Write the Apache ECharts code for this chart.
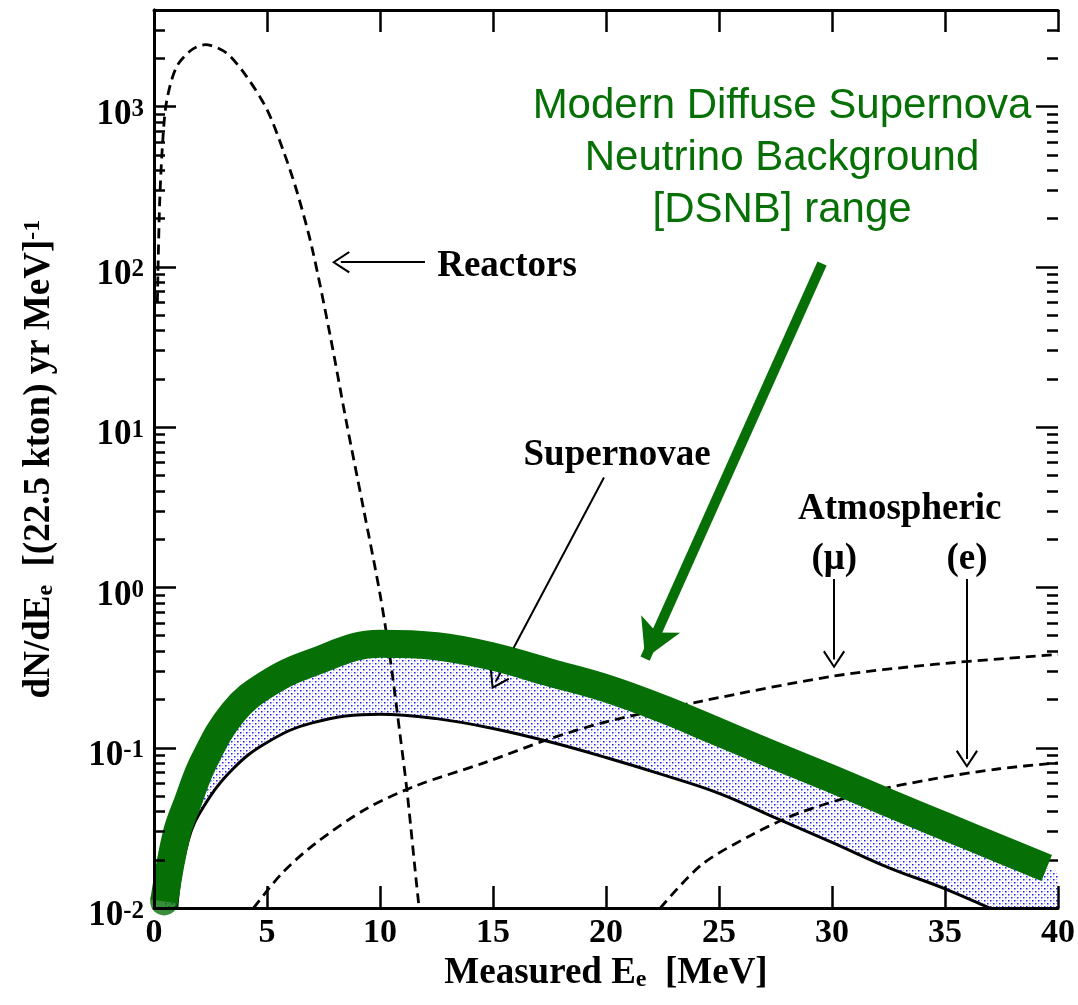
<!DOCTYPE html>
<html>
<head>
<meta charset="utf-8">
<script src="https://cdn.jsdelivr.net/npm/echarts@6/dist/echarts.min.js"></script>
<style>
  html, body { margin: 0; padding: 0; background: #fff; }
  #chart { width: 1078px; height: 1005px; }
</style>
</head>
<body>
<div id="chart"></div>
<script>
// values (energy in MeV, rate per MeV per 22.5 kton yr)
var reactorE = [0.15, 0.25, 0.4, 0.57, 1.0, 1.67, 2.26, 3.2, 4.1, 5.0, 5.7, 6.33, 7.0, 7.8, 8.5, 9.25, 10.0, 10.45, 10.9, 11.2, 11.7, 12.0]
var reactorRate = [60, 250, 650, 1100, 1770, 2260, 2430, 2160, 1535, 957, 541, 293, 130, 37, 11, 3.2, 0.91, 0.36, 0.117, 0.053, 0.011, 0.005]

var atmMuE = [4.4, 5.7, 7.2, 9.4, 11.6, 14.6, 17.5, 20, 24.2, 30, 34.5, 40]
var atmMuRate = [0.01, 0.0167, 0.0257, 0.0417, 0.058, 0.0805, 0.1135, 0.145, 0.195, 0.279, 0.331, 0.382]

var atmEE = [22.4, 24.2, 26.4, 28.6, 31.5, 34.5, 37.4, 40]
var atmERate = [0.01, 0.0185, 0.0284, 0.0395, 0.0525, 0.064, 0.074, 0.0805]

// supernova band: lower edge (black line) and upper edge (green DSNB line)
var bandE = [0.45, 1.0, 1.5, 2.2, 3.5, 5, 7, 10, 12.5, 15, 17.5, 20, 22.5, 25, 27.5, 30, 32.5, 35, 37.5, 39.5, 40]
var snLow = [0.0005, 0.0098, 0.026, 0.043, 0.074, 0.108, 0.143, 0.162, 0.152, 0.132, 0.109, 0.087, 0.068, 0.052, 0.0365, 0.0257, 0.0179, 0.0132, 0.0093, 0.0071, 0.0065]
var snHigh = [0.011, 0.029, 0.046, 0.082, 0.166, 0.25, 0.34, 0.445, 0.43, 0.37, 0.295, 0.235, 0.175, 0.125, 0.089, 0.064, 0.0454, 0.0324, 0.0232, 0.0178, 0.0166]

var xTicks = [0, 5, 10, 15, 20, 25, 30, 35, 40]
var yMin = 0.01
var yMax = 4000
var yDecades = [0.01, 0.1, 1, 10, 100, 1000]

// log minor ticks 2..9 x 10^k
var minorTicks = []
yDecades.forEach(function (d) {
  for (var m = 2; m <= 9; m++) {
    if (m * d < yMax) minorTicks.push(m * d)
  }
})

var GREEN = '#067006'
var SERIF = 'Liberation Serif'
var GRID = {left: 154, right: 20, top: 10, bottom: 92}
var xLo = xTicks[0]
var xHi = xTicks[xTicks.length - 1]
// tick lengths of 11 px / 22 px expressed along the x axis
var plotW = 1078 - GRID.left - GRID.right
var minorLen = 11 * (xHi - xLo) / plotW
var majorLen = 22 * (xHi - xLo) / plotW

function pairs (xs, ys) {
  return xs.map(function (x, i) { return [x, ys[i]] })
}

function dotPattern () {
  var c = document.createElement('canvas')
  c.width = 6
  c.height = 6
  var g = c.getContext('2d')
  g.fillStyle = '#ffffff'
  g.fillRect(0, 0, 6, 6)
  g.fillStyle = '#1a1aff'
  g.fillRect(0, 0, 1.5, 1.5)
  g.fillRect(3, 3, 1.5, 1.5)
  g.fillStyle = '#a8a8ff'
  g.fillRect(3, 0, 1, 1)
  g.fillRect(0, 3, 1, 1)
  return c
}

var chevron = 'path://M12,0 L24,17 L22.2,18.4 L12,3.6 L1.8,18.4 L0,17 Z'

var dashed = {color: '#000', width: 2.8, type: [10, 6]}

var axisLineStyle = {color: '#000', width: 3}
var tickStyle = {color: '#000', width: 2.5}

// minor ticks on the right frame side, major ticks on the right side
var frameTicks = []
minorTicks.forEach(function (v) {
  frameTicks.push([{coord: [xHi - minorLen, v]}, {coord: [xHi, v]}])
})
yDecades.forEach(function (v) {
  frameTicks.push([{coord: [xHi - majorLen, v]}, {coord: [xHi, v]}])
})

var option = {
  animation: false,
  backgroundColor: '#fff',
  grid: {left: GRID.left, right: GRID.right, top: GRID.top, bottom: GRID.bottom, containLabel: false},
  xAxis: [
    {
      type: 'value', min: xLo, max: xHi, interval: 5,
      position: 'bottom', z: 10,
      axisLine: {show: true, lineStyle: axisLineStyle},
      axisTick: {show: true, inside: true, length: 22, lineStyle: tickStyle},
      splitLine: {show: false},
      axisLabel: {color: '#000', fontFamily: SERIF, fontWeight: 'bold', fontSize: 34, margin: 8},
      name: '{t|Measured E}{sub|e}{t|  [MeV]}',
      nameLocation: 'middle',
      nameGap: 44,
      nameTextStyle: {
        rich: {
          t: {fontFamily: SERIF, fontWeight: 'bold', fontSize: 37, color: '#000', lineHeight: 37, padding: [0, 0, 8, 0], verticalAlign: 'top'},
          sub: {fontFamily: SERIF, fontWeight: 'bold', fontSize: 24, color: '#000', lineHeight: 24, verticalAlign: 'bottom'}
        }
      }
    },
    {
      type: 'value', min: xLo, max: xHi, interval: 5,
      position: 'top', z: 10,
      axisLine: {show: true, lineStyle: axisLineStyle},
      axisTick: {show: true, inside: true, length: 22, lineStyle: tickStyle},
      splitLine: {show: false},
      axisLabel: {show: false}
    }
  ],
  yAxis: [
    {
      type: 'log', logBase: 10, min: yMin, max: yMax, splitNumber: 6,
      position: 'left', z: 10,
      axisLine: {show: true, lineStyle: axisLineStyle},
      axisTick: {show: true, inside: true, length: 22, lineStyle: tickStyle},
      splitLine: {show: false},
      axisLabel: {
        margin: 10,
        fontSize: 34,
        fontFamily: SERIF,
        fontWeight: 'bold',
        color: '#000',
        padding: [16, 0, 0, 0],
        formatter: function (val) {
          var p = Math.log10(val)
          var e = Math.round(p)
          if (Math.abs(p - e) > 1e-6) return ''
          return '{b|10}{s|' + e + '}'
        },
        rich: {
          b: {fontFamily: SERIF, fontWeight: 'bold', fontSize: 35, color: '#000', lineHeight: 35, padding: [9, 0, 0, 0], verticalAlign: 'bottom'},
          s: {fontFamily: SERIF, fontWeight: 'bold', fontSize: 25, color: '#000', lineHeight: 25, verticalAlign: 'top'}
        }
      },
      name: '{t|dN/dE}{sub|e}{t|  [(22.5 kton) yr MeV]}{sup|-1}',
      nameLocation: 'middle',
      nameRotate: 90,
      nameGap: 96,
      nameTextStyle: {
        rich: {
          t: {fontFamily: SERIF, fontWeight: 'bold', fontSize: 37, color: '#000', lineHeight: 37, padding: [8, 0, 8, 0], verticalAlign: 'middle'},
          sub: {fontFamily: SERIF, fontWeight: 'bold', fontSize: 24, color: '#000', lineHeight: 24, verticalAlign: 'bottom'},
          sup: {fontFamily: SERIF, fontWeight: 'bold', fontSize: 24, color: '#000', lineHeight: 24, verticalAlign: 'top'}
        }
      }
    },
    {
      type: 'log', logBase: 10, min: yMin, max: yMax,
      position: 'right', z: 10,
      axisLine: {show: true, lineStyle: axisLineStyle},
      axisTick: {show: false},
      splitLine: {show: false},
      axisLabel: {show: false}
    },
    {
      // second left axis, only for the log minor ticks
      type: 'log', logBase: 10, min: yMin, max: yMax, splitNumber: 6,
      position: 'left', offset: 0, z: 11,
      axisLine: {show: false},
      axisTick: {show: true, inside: true, length: 11, lineStyle: tickStyle, customValues: minorTicks},
      splitLine: {show: false},
      axisLabel: {show: false}
    }
  ],
  series: [
    {
      // upper edge of the band, dotted fill down to the axis
      name: 'Supernovae band',
      type: 'line',
      data: pairs(bandE, snHigh),
      symbol: 'none',
      smooth: 0.4,
      lineStyle: {width: 0, opacity: 0},
      areaStyle: {color: {image: dotPattern(), repeat: 'repeat'}, opacity: 1, origin: 'start'},
      z: 1
    },
    {
      // lower edge of the band (black), white below it
      name: 'Supernovae low',
      type: 'line',
      data: pairs(bandE, snLow),
      symbol: 'none',
      smooth: 0.4,
      lineStyle: {color: '#000', width: 3},
      areaStyle: {color: '#fff', opacity: 1, origin: 'start'},
      z: 2,
      markLine: {
        silent: true,
        symbol: ['none', chevron],
        symbolSize: [22, 18],
        label: {show: false},
        lineStyle: {color: '#000', width: 2, type: 'solid'},
        data: [
          [{coord: [11.99, 107]}, {coord: [8.27, 107]}],
          [{coord: [19.91, 4.85]}, {coord: [15.13, 0.26]}],
          [{coord: [30.09, 1.13]}, {coord: [30.09, 0.355]}],
          [{coord: [35.97, 1.13]}, {coord: [35.97, 0.085]}]
        ]
      }
    },
    {
      name: 'Reactors',
      type: 'line',
      data: pairs(reactorE, reactorRate),
      symbol: 'none',
      smooth: 0.3,
      lineStyle: dashed,
      z: 4
    },
    {
      name: 'Atmospheric mu',
      type: 'line',
      data: pairs(atmMuE, atmMuRate),
      symbol: 'none',
      smooth: 0.3,
      lineStyle: dashed,
      z: 4
    },
    {
      name: 'Atmospheric e',
      type: 'line',
      data: pairs(atmEE, atmERate),
      symbol: 'none',
      smooth: 0.3,
      lineStyle: dashed,
      z: 4
    },
    {
      name: 'DSNB',
      type: 'line',
      data: pairs(bandE, snHigh).filter(function (p) { return p[0] <= 39.5 }),
      symbol: 'none',
      smooth: 0.4,
      lineStyle: {color: GREEN, width: 28, cap: 'butt', join: 'round'},
      z: 6,
      markLine: {
        silent: true,
        symbol: ['none', 'arrow'],
        symbolSize: [32, 38],
        label: {show: false},
        lineStyle: {color: GREEN, width: 10, type: 'solid'},
        data: [
          [{coord: [29.56, 105]}, {coord: [21.73, 0.36]}]
        ]
      }
    },
    {
      name: 'DSNB start',
      type: 'scatter',
      data: [[bandE[0], snHigh[0]]],
      symbol: 'circle',
      symbolSize: 28,
      itemStyle: {color: GREEN},
      clip: false,
      z: 6
    },
    {
      // carrier for the right-hand frame ticks
      name: 'frame ticks',
      type: 'line',
      data: pairs(yDecades.map(function () { return xHi }), yDecades),
      symbol: 'none',
      lineStyle: {opacity: 0},
      silent: true,
      z: 9,
      markLine: {
        silent: true,
        symbol: ['none', 'none'],
        label: {show: false},
        lineStyle: {color: '#000', width: 2.5, type: 'solid'},
        data: frameTicks
      }
    }
  ]
}

var chart = echarts.init(document.getElementById('chart'))
chart.setOption(option)

function px (pt) {
  return chart.convertToPixel({gridIndex: 0}, pt)
}

var graphics = []

// text annotations, placed in data coordinates
var notes = [
  {text: 'Reactors', at: [15.62, 100]},
  {text: 'Supernovae', at: [20.49, 6.65]},
  {text: 'Atmospheric', at: [33.0, 3.08]},
  {text: '(\u03bc)', at: [30.1, 1.5]},
  {text: '(e)', at: [35.97, 1.5]}
]
var titleLines = [
  {text: 'Modern Diffuse Supernova', at: [27.79, 1000]},
  {text: 'Neutrino Background', at: [27.79, 475]},
  {text: '[DSNB] range', at: [27.79, 225]}
]

notes.forEach(function (n) {
  var p = px(n.at)
  graphics.push({
    type: 'text', x: p[0], y: p[1], z: 20,
    style: {text: n.text, fontFamily: SERIF, fontWeight: 'bold', fontSize: 37, fill: '#000', align: 'center', verticalAlign: 'middle'}
  })
})
titleLines.forEach(function (n) {
  var p = px(n.at)
  graphics.push({
    type: 'text', x: p[0], y: p[1], z: 20,
    style: {text: n.text, fontFamily: 'Liberation Sans', fontSize: 42, fill: GREEN, align: 'center', verticalAlign: 'middle'}
  })
})
chart.setOption({graphic: graphics})
</script>
</body>
</html>
